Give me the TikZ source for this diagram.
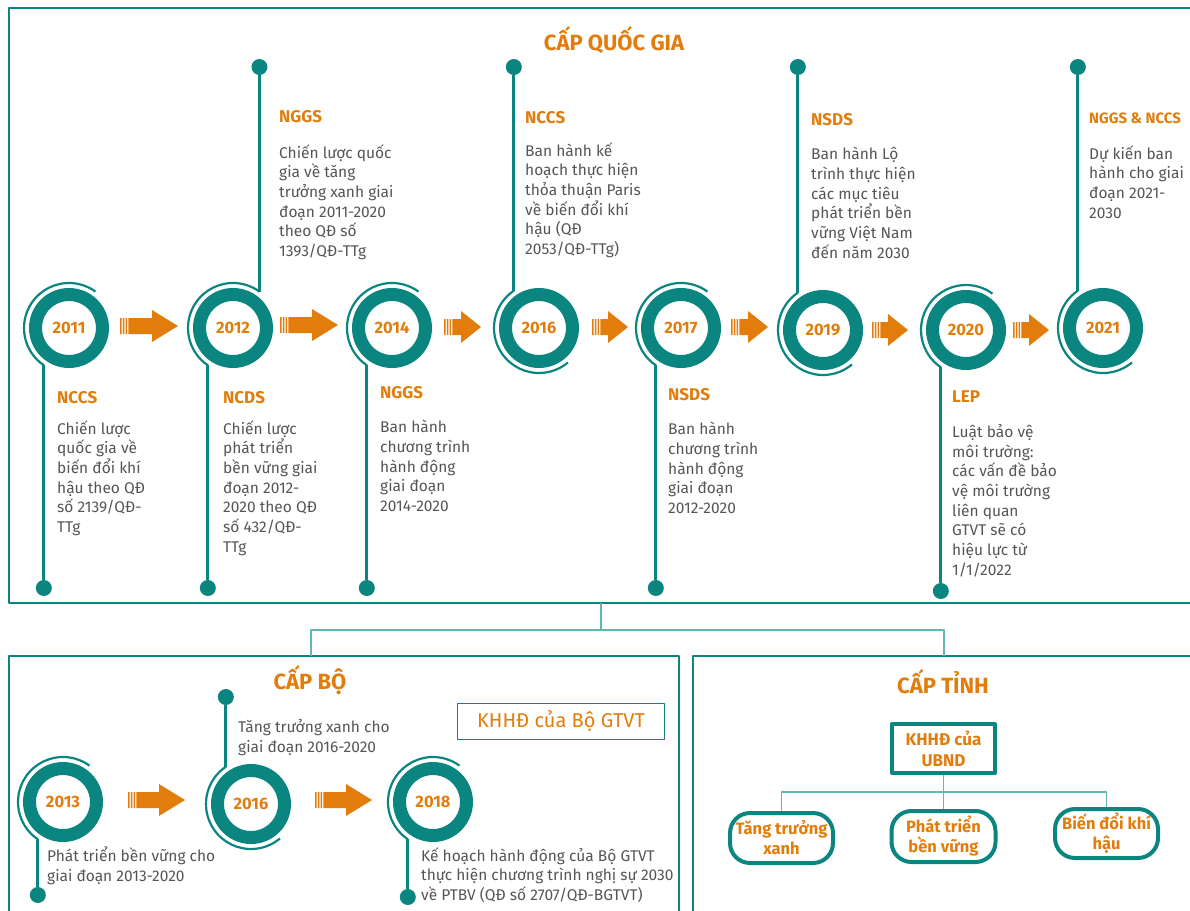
\documentclass[tikz,border=0pt]{standalone}
\usepackage{fontspec}
\setmainfont{Fira Sans}
\usetikzlibrary{calc}
\definecolor{ringteal}{HTML}{0B8580}
\definecolor{stageorange}{HTML}{E27D0C}
\definecolor{linkteal}{HTML}{62B6B1}
\definecolor{notegray}{HTML}{555555}

\begin{document}
\begin{tikzpicture}[
  x=1pt,
  y=-1pt,
  line join=round,
  levelframe/.style={draw=ringteal,line width=1.8pt},
  link/.style={draw=linkteal,line width=1.3pt},
  ring/.style={circle,draw=ringteal,line width=13pt,minimum size=67pt,inner sep=0pt,
    text=stageorange,font=\fontsize{16.5}{18}\selectfont\bfseries},
  halo/.style={draw=ringteal,line width=2.2pt},
  stem/.style={draw=ringteal,line width=3pt},
  dot/.style={circle,fill=ringteal,minimum size=16pt,inner sep=0pt},
  notehead/.style={anchor=west,inner sep=0pt,text=stageorange,font=\fontsize{17}{20}\selectfont\bfseries},
  note/.style={anchor=north west,inner sep=0pt,align=left,text=notegray,font=\fontsize{15.5}{19.7}\selectfont},
  leveltitle/.style={text=stageorange,font=\fontsize{22}{24}\selectfont\bfseries},
  pill/.style={rectangle,rounded corners=20pt,draw=ringteal,line width=4pt,align=center,inner sep=0pt,
    text=stageorange,font=\fontsize{16.5}{20}\selectfont\bfseries}
]
  % Page frame of the original artwork.
  \useasboundingbox (0,0) rectangle (1190,910);

  % Three level frames and the fork between them.
  \draw[levelframe] (9,8) rectangle (1196,603);
  \draw[levelframe] (9,656) rectangle (679,920);
  \draw[levelframe] (693,656) rectangle (1196,920);
  \coordinate (natfoot) at (601,603);
  \coordinate (fork) at (601,630);
  \coordinate (minhead) at (311,656);
  \coordinate (provhead) at (944,656);
  \draw[link] (natfoot) -- (fork);
  \draw[link] (fork) -| (minhead);
  \draw[link] (fork) -| (provhead);

  \node[leveltitle] (natname) at (614,40) {CẤP QUỐC GIA};
  \node[leveltitle] (minname) at (310,680) {CẤP BỘ};
  \node[leveltitle] (provname) at (943,682) {CẤP TỈNH};

  % National timeline: year rings.
  \foreach \yr/\cx/\cy in {2011/69/328,2012/233/328,2014/392/328,2016/539/328,
                           2017/681/328,2019/823/330,2020/966/330,2021/1103/328}
    \node[ring] (y\yr) at (\cx,\cy) {\yr};

  % Rings whose stem runs down to the bottom rail.
  \foreach \yr/\dy in {2011/588,2012/588,2014/588,2017/588,2020/591}{
    \coordinate (b\yr) at ($(y\yr)+(-236:45)$);
    \draw[halo] (b\yr) arc[start angle=-236,end angle=-54,radius=45];
    \node[dot] (d\yr) at (b\yr |- 0,\dy) {};
    \draw[stem] (b\yr) -- (d\yr);
  }
  % 2012 also has a stem going up.
  \coordinate (u2012) at ($(y2012)+(-54:45)$);
  \node[dot] (t2012) at (u2012 |- 0,67) {};
  \draw[stem] (u2012) -- (t2012);

  % Rings whose stem runs up to the top rail.
  \foreach \yr in {2016,2019,2021}{
    \coordinate (u\yr) at ($(y\yr)+(-124:45)$);
    \draw[halo] (u\yr) arc[start angle=-124,end angle=-310,radius=45];
    \node[dot] (t\yr) at (u\yr |- 0,67) {};
    \draw[stem] (u\yr) -- (t\yr);
  }

  % Stage arrows: three thin bars, a shaft and a head.
  \foreach \xa/\xb/\ya/\hl in {120/178/326/26,280/338/325/26,444/481/327/20,592/628/327/20,
                               731/768/327/20,872/908/330/20,1013/1049/330/20,
                               128/185/800/26,315/372/800/26}{
    \fill[stageorange] (\xa,{\ya-8}) rectangle ++(1.6,16)
      ({\xa+2.8},{\ya-8}) rectangle ++(1.6,16)
      ({\xa+5.6},{\ya-8}) rectangle ++(1.6,16)
      ({\xa+8.4},{\ya-8}) -- ({\xb-\hl},{\ya-8}) -- ({\xb-\hl},{\ya-16}) -- (\xb,\ya)
      -- ({\xb-\hl},{\ya+16}) -- ({\xb-\hl},{\ya+8}) -- ({\xa+8.4},{\ya+8}) -- cycle;
  }

  % National timeline: notes.
  \node[notehead] (h2011) at (57,398) {NCCS};
  \node[note] (n2011) at (57,420) {Chiến lược\\quốc gia về\\biến đổi khí\\hậu theo QĐ\\số 2139/QĐ-\\TTg};
  \node[notehead] (h2012u) at (279,117) {NGGS};
  \node[note] (n2012u) at (279,144) {Chiến lược quốc\\gia về tăng\\trưởng xanh giai\\đoạn 2011-2020\\theo QĐ số\\1393/QĐ-TTg};
  \node[notehead] (h2012d) at (223,398) {NCDS};
  \node[note] (n2012d) at (223,420) {Chiến lược\\phát triển\\bền vững giai\\đoạn 2012-\\2020 theo QĐ\\số 432/QĐ-\\TTg};
  \node[notehead] (h2014) at (380,393) {NGGS};
  \node[note] (n2014) at (380,420) {Ban hành\\chương trình\\hành động\\giai đoạn\\2014-2020};
  \node[notehead] (h2016) at (525,118) {NCCS};
  \node[note] (n2016) at (525,142) {Ban hành kế\\hoạch thực hiện\\thỏa thuận Paris\\về biến đổi khí\\hậu (QĐ\\2053/QĐ-TTg)};
  \node[notehead] (h2017) at (668,395) {NSDS};
  \node[note] (n2017) at (668,422) {Ban hành\\chương trình\\hành động\\giai đoạn\\2012-2020};
  \node[notehead] (h2019) at (811,120) {NSDS};
  \node[note] (n2019) at (811,147) {Ban hành Lộ\\trình thực hiện\\các mục tiêu\\phát triển bền\\vững Việt Nam\\đến năm 2030};
  \node[notehead] (h2020) at (952,397) {LEP};
  \node[note] (n2020) at (952,424) {Luật bảo vệ\\môi trường:\\các vấn đề bảo\\vệ môi trường\\liên quan\\GTVT sẽ có\\hiệu lực từ\\1/1/2022};
  \node[notehead,font=\fontsize{15}{18}\selectfont\bfseries] (h2021) at (1089,118) {NGGS \& NCCS};
  \node[note] (n2021) at (1089,145) {Dự kiến ban\\hành cho giai\\đoạn 2021-\\2030};

  % Ministry level timeline.
  \node[ring] (m2013) at (63,802) {2013};
  \node[ring] (m2016) at (251,804) {2016};
  \node[ring] (m2018) at (433,802) {2018};
  \foreach \yr/\dy in {2013/895,2018/897}{
    \coordinate (mb\yr) at ($(m\yr)+(-236:45)$);
    \draw[halo] (mb\yr) arc[start angle=-236,end angle=-54,radius=45];
    \node[dot] (md\yr) at (mb\yr |- 0,\dy) {};
    \draw[stem] (mb\yr) -- (md\yr);
  }
  \coordinate (mu2016) at ($(m2016)+(-124:45)$);
  \draw[halo] (mu2016) arc[start angle=-124,end angle=-310,radius=45];
  \node[dot] (mt2016) at (mu2016 |- 0,697) {};
  \draw[stem] (mu2016) -- (mt2016);

  \node[note] (mn2016) at (238,719) {Tăng trưởng xanh cho\\giai đoạn 2016-2020};
  \node[note] (mn2013) at (47,847) {Phát triển bền vững cho\\giai đoạn 2013-2020};
  \node[note] (mn2018) at (421,847) {Kế hoạch hành động của Bộ GTVT\\thực hiện chương trình nghị sự 2030\\về PTBV (QĐ số 2707/QĐ-BGTVT)};
  \node[draw=ringteal,line width=1.5pt,minimum width=207pt,minimum height=36pt,inner sep=0pt,
    text=stageorange,font=\fontsize{20}{24}\selectfont] (moplan) at (561,721.5) {KHHĐ của Bộ GTVT};

  % Province level tree.
  \node[draw=ringteal,line width=4pt,minimum width=103pt,minimum height=49pt,inner sep=0pt,align=center,
    text=stageorange,font=\fontsize{17}{21}\selectfont\bfseries] (ubnd) at (943.5,748.5) {KHHĐ của\\UBND};
  \node[pill,minimum width=103pt,minimum height=50pt] (growth) at (781.5,838) {Tăng trưởng\\xanh};
  \node[pill,minimum width=104pt,minimum height=51pt] (sustain) at (943.5,836.5) {Phát triển\\bền vững};
  \node[pill,minimum width=103pt,minimum height=49pt] (climate) at (1106.5,833.5) {Biến đổi khí\\hậu};
  \coordinate (split) at (943.5,792);
  \draw[link] (ubnd) -- (split);
  \draw[link] (split) -| (growth);
  \draw[link] (split) -- (sustain);
  \draw[link] (split) -| (climate);
\end{tikzpicture}
\end{document}
